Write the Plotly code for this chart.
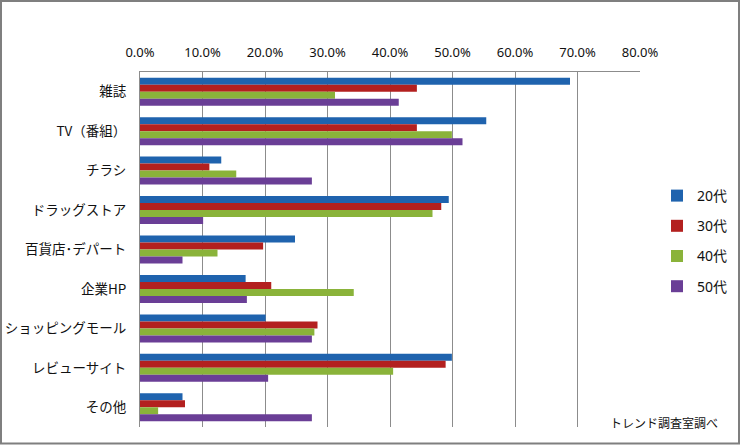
import plotly.graph_objects as go

categories = ["雑誌", "TV（番組）", "チラシ", "ドラッグストア", "百貨店･デパート",
              "企業HP", "ショッピングモール", "レビューサイト", "その他"]
series_names = ["20代", "30代", "40代", "50代"]
v20 = [0.688, 0.554, 0.130, 0.494, 0.248, 0.169, 0.201, 0.499, 0.068]
v30 = [0.443, 0.443, 0.111, 0.482, 0.197, 0.210, 0.284, 0.489, 0.072]
v40 = [0.312, 0.499, 0.154, 0.468, 0.124, 0.342, 0.279, 0.405, 0.029]
v50 = [0.414, 0.516, 0.275, 0.101, 0.068, 0.171, 0.275, 0.205, 0.275]
colors = ["#1F63AE", "#B3201F", "#8AB33A", "#6A3E96"]
source_note = "トレンド調査室調べ"

fig = go.Figure()
for name, vals, col in zip(series_names, [v20, v30, v40, v50], colors):
    fig.add_trace(go.Bar(
        y=categories, x=vals, name=name, orientation="h",
        marker=dict(color=col, line=dict(width=0)),
        legendgroup=name,
    ))

W, H = 740, 445
l, r, t, b = 140, 100, 72, 18
pw, ph = W - l - r, H - t - b

def px_to_paper_x(p):
    return (p - l) / pw

def px_to_paper_y(p):
    return (H - b - p) / ph

fig.update_layout(
    width=W, height=H,
    margin=dict(l=l, r=r, t=t, b=b, autoexpand=False),
    paper_bgcolor="white", plot_bgcolor="white",
    barmode="group", bargap=0.29, bargroupgap=0,
    font=dict(family="Noto Sans CJK JP, Noto Sans", size=13, color="#111"),
    showlegend=True,
    legend=dict(
        x=px_to_paper_x(657), y=px_to_paper_y(180), xanchor="left", yanchor="top",
        font=dict(size=14, family="Noto Sans, Noto Sans CJK JP", color="#111"),
        tracegroupgap=9, itemwidth=30, bgcolor="rgba(0,0,0,0)",
    ),
    xaxis=dict(
        side="top", range=[0, 0.8], dtick=0.1, tickformat=".1%",
        showgrid=True, gridcolor="#8C8C8C", gridwidth=1,
        showline=True, linecolor="#8C8C8C", linewidth=1,
        zeroline=False, ticks="", ticklabelstandoff=9,
        tickfont=dict(family="Noto Sans", size=13, color="#111"),
        fixedrange=True,
    ),
    yaxis=dict(
        autorange="reversed", showgrid=False, zeroline=False,
        showline=True, linecolor="#8C8C8C", linewidth=1,
        ticks="", ticklabelstandoff=10,
        tickfont=dict(family="Noto Sans CJK JP", size=13.5, color="#111"),
        fixedrange=True,
    ),
    annotations=[dict(
        text=source_note, xref="paper", yref="paper",
        x=px_to_paper_x(720), y=px_to_paper_y(422),
        xanchor="right", yanchor="middle", showarrow=False,
        font=dict(family="Noto Sans CJK JP", size=12, color="#111"),
    )],
    shapes=[dict(
        type="rect", xref="paper", yref="paper",
        x0=px_to_paper_x(1), x1=px_to_paper_x(739),
        y0=px_to_paper_y(443.5), y1=px_to_paper_y(1),
        line=dict(color="#7F7F7F", width=2), fillcolor="rgba(0,0,0,0)",
        layer="above",
    )],
)

fig.write_html(
    "out.html",
    config={"displayModeBar": False},
    post_script="document.body.style.margin='0';document.body.style.padding='0';",
)
